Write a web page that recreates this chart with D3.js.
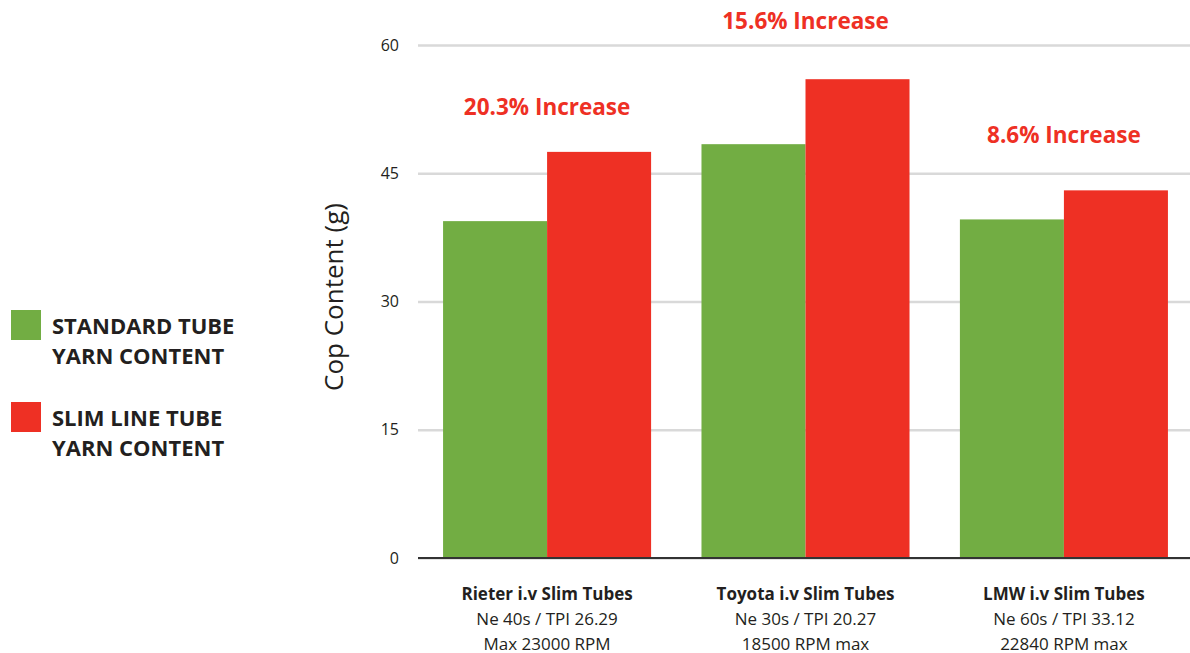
<!DOCTYPE html>
<html>
<head>
<meta charset="utf-8">
<script src="https://cdn.jsdelivr.net/npm/d3@7"></script>
<style>
  html, body { margin: 0; padding: 0; background: #fff; }
  svg { display: block; font-family: "Open Sans", "DejaVu Sans", sans-serif; }
</style>
</head>
<body>
<div id="chart"></div>
<script>
// Cop content per tube type
const categories = ['Rieter i.v Slim Tubes', 'Toyota i.v Slim Tubes', 'LMW i.v Slim Tubes'];
const subLine1 = ['Ne 40s / TPI 26.29', 'Ne 30s / TPI 20.27', 'Ne 60s / TPI 33.12'];
const subLine2 = ['Max 23000 RPM', '18500 RPM max', '22840 RPM max'];
const seriesNames = ['STANDARD TUBE\nYARN CONTENT', 'SLIM LINE TUBE\nYARN CONTENT'];
const standardTube = [39.4, 48.4, 39.6];
const slimTube = [47.5, 56.0, 43.0];
const increaseLabels = ['20.3% Increase', '15.6% Increase', '8.6% Increase'];
const increaseAt = [52.7, 62.8, 49.5]; // label height in data units
const yTicks = [0, 15, 30, 45, 60];

const width = 1190, height = 653;
const colors = ['#72ad43', '#ee3024'];

const svg = d3.select('#chart').append('svg')
  .attr('width', width)
  .attr('height', height);

const x0 = d3.scaleBand()
  .domain(categories)
  .range([418, 1193])
  .paddingInner(0.195)
  .paddingOuter(0.097);

const x1 = d3.scaleBand()
  .domain([0, 1])
  .range([0, x0.bandwidth()]);

const y = d3.scaleLinear()
  .domain([0, 60])
  .range([558, 45]);

// Gridlines + tick labels
const yAxis = svg.append('g')
  .attr('transform', 'translate(418,0)')
  .call(d3.axisLeft(y).tickValues(yTicks).tickSize(-772).tickPadding(19));
yAxis.select('.domain').remove();
yAxis.selectAll('.tick line')
  .attr('stroke', '#d9d9d9')
  .attr('stroke-width', 2.5);
yAxis.selectAll('.tick text')
  .attr('font-size', 16)
  .attr('fill', '#231f20')
  .attr('font-family', '"Open Sans", sans-serif');

// Bars
const groups = svg.append('g')
  .selectAll('g')
  .data(categories)
  .join('g')
  .attr('transform', d => `translate(${x0(d)},0)`);

groups.selectAll('rect')
  .data((d, i) => [standardTube[i], slimTube[i]])
  .join('rect')
  .attr('x', (d, j) => x1(j))
  .attr('width', x1.bandwidth())
  .attr('y', d => y(d))
  .attr('height', d => y(0) - y(d))
  .attr('fill', (d, j) => colors[j]);

// Baseline
svg.append('line')
  .attr('x1', 418).attr('x2', 1190)
  .attr('y1', y(0)).attr('y2', y(0))
  .attr('stroke', '#333')
  .attr('stroke-width', 2);

// Increase annotations
svg.append('g')
  .selectAll('text')
  .data(increaseLabels)
  .join('text')
  .attr('x', (d, i) => x0(categories[i]) + x0.bandwidth() / 2)
  .attr('y', (d, i) => y(increaseAt[i]))
  .attr('dy', '0.35em')
  .attr('text-anchor', 'middle')
  .attr('font-size', 22.5)
  .attr('font-weight', 'bold')
  .attr('fill', '#ee3024')
  .text(d => d);

// Category labels
const catLabel = svg.append('g')
  .selectAll('text')
  .data(categories)
  .join('text')
  .attr('x', d => x0(d) + x0.bandwidth() / 2)
  .attr('y', 600)
  .attr('text-anchor', 'middle')
  .attr('font-size', 17)
  .attr('fill', '#231f20');

catLabel.append('tspan')
  .attr('font-weight', 'bold')
  .text(d => d);
catLabel.append('tspan')
  .attr('x', d => x0(d) + x0.bandwidth() / 2)
  .attr('dy', 25)
  .text((d, i) => subLine1[i]);
catLabel.append('tspan')
  .attr('x', d => x0(d) + x0.bandwidth() / 2)
  .attr('dy', 24.5)
  .text((d, i) => subLine2[i]);

// Y axis title
svg.append('text')
  .attr('transform', 'translate(343,297) rotate(-90)')
  .attr('text-anchor', 'middle')
  .attr('font-size', 26)
  .attr('fill', '#231f20')
  .text('Cop Content (g)');

// Legend
const legend = svg.append('g')
  .selectAll('g')
  .data(seriesNames)
  .join('g')
  .attr('transform', (d, i) => `translate(11,${310 + i * 92})`);

legend.append('rect')
  .attr('width', 30)
  .attr('height', 30)
  .attr('fill', (d, i) => colors[i]);

legend.append('text')
  .attr('font-size', 22)
  .attr('font-weight', 'bold')
  .attr('fill', '#231f20')
  .selectAll('tspan')
  .data(d => d.split('\n'))
  .join('tspan')
  .attr('x', 41)
  .attr('y', (d, k) => 24 + k * 30)
  .text(d => d);
</script>
</body>
</html>
